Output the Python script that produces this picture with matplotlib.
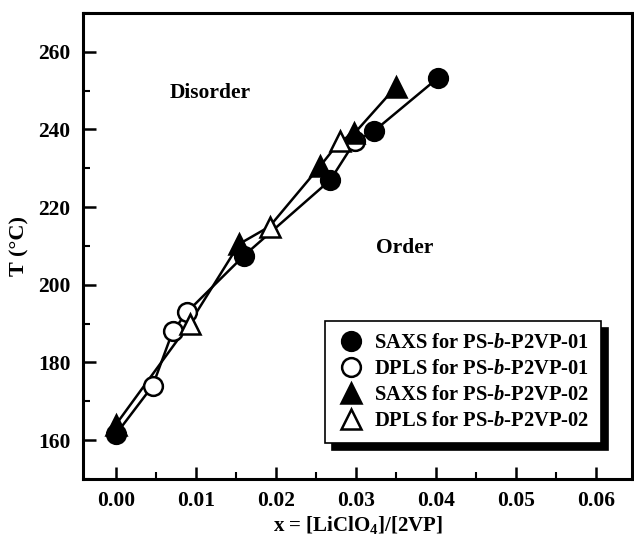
import matplotlib
matplotlib.use("Agg")
import matplotlib.pyplot as plt
from matplotlib.ticker import MultipleLocator
import numpy as np

plt.rcParams["font.family"] = "Liberation Serif"
plt.rcParams["font.weight"] = "bold"
plt.rcParams["axes.labelweight"] = "bold"
plt.rcParams["mathtext.fontset"] = "custom"
plt.rcParams["mathtext.rm"] = "Liberation Serif:bold"
plt.rcParams["mathtext.it"] = "Liberation Serif:bold:italic"
plt.rcParams["mathtext.bf"] = "Liberation Serif:bold"

# data
saxs01_x = [0.0, 0.0160, 0.0268, 0.0322, 0.0402]
saxs01_T = [161.5, 207.5, 227.0, 239.5, 253.2]
dpls01_x = [0.0046, 0.0071, 0.0089, 0.0299]
dpls01_T = [174.0, 188.0, 193.0, 237.0]
saxs02_x = [0.0, 0.0154, 0.0255, 0.0298, 0.0350]
saxs02_T = [164.0, 210.5, 230.5, 239.0, 251.0]
dpls02_x = [0.0092, 0.0192, 0.0280]
dpls02_T = [190.0, 215.0, 237.0]

labels = ["SAXS for PS-$\\mathit{b}$-P2VP-01", "DPLS for PS-$\\mathit{b}$-P2VP-01",
          "SAXS for PS-$\\mathit{b}$-P2VP-02", "DPLS for PS-$\\mathit{b}$-P2VP-02"]


def joined(xa, ya, xb, yb):
    x = np.array(xa + xb)
    y = np.array(ya + yb)
    order = np.argsort(x)
    return x[order], y[order]


fig = plt.figure(figsize=(6.34, 5.4), dpi=100)
ax = fig.add_axes([0.131, 0.113, 0.866, 0.863])

x1, y1 = joined(saxs01_x, saxs01_T, dpls01_x, dpls01_T)
x2, y2 = joined(saxs02_x, saxs02_T, dpls02_x, dpls02_T)
ax.plot(x1, y1, color="black", lw=1.8, zorder=2)
ax.plot(x2, y2, color="black", lw=1.8, zorder=2)

mk = dict(color="black", markeredgecolor="black", markeredgewidth=1.8, linestyle="none", zorder=3)
ax.plot(saxs01_x, saxs01_T, marker="o", markersize=13.5, markerfacecolor="black", label=labels[0], **mk)
ax.plot(dpls01_x, dpls01_T, marker="o", markersize=13.5, markerfacecolor="white", label=labels[1], **mk)
ax.plot(saxs02_x, saxs02_T, marker="^", markersize=14.5, markerfacecolor="black", label=labels[2], **mk)
ax.plot(dpls02_x, dpls02_T, marker="^", markersize=14.5, markerfacecolor="white", label=labels[3], **mk)

ax.set_xlim(-0.0041, 0.0645)
ax.set_ylim(150, 270)
ax.xaxis.set_minor_locator(MultipleLocator(0.005))
ax.yaxis.set_minor_locator(MultipleLocator(10))
xt = np.arange(0, 0.061, 0.01)
ax.set_xticks(xt)
ax.set_xticklabels([f"{v:.2f}" for v in xt])
ax.set_yticks([160, 180, 200, 220, 240, 260])
ax.tick_params(which="major", direction="in", length=9, width=1.8, labelsize=15.5, pad=9)
ax.tick_params(which="minor", direction="in", length=5, width=1.5)
for s in ax.spines.values():
    s.set_linewidth(2.2)

ax.set_xlabel("x = $\\left[\\mathrm{LiClO}_4\\right]$/[2VP]", fontsize=15, labelpad=2)
ax.set_ylabel("T (°C)", fontsize=16, labelpad=6)

ax.text(0.0118, 249.5, "Disorder", fontsize=15.5, ha="center", va="center")
ax.text(0.0361, 209.5, "Order", fontsize=15.5, ha="center", va="center")

leg = ax.legend(loc="lower right", bbox_to_anchor=(0.944, 0.077), fontsize=14.8, frameon=True,
                fancybox=False, shadow={"color": "black", "alpha": 1, "ox": 5, "oy": -5},
                edgecolor="black", handletextpad=0.45, labelspacing=0.28, borderpad=0.6,
                handlelength=1.3, borderaxespad=0)
leg.get_frame().set_linewidth(1.2)

fig.savefig("out.png", dpi=100)
